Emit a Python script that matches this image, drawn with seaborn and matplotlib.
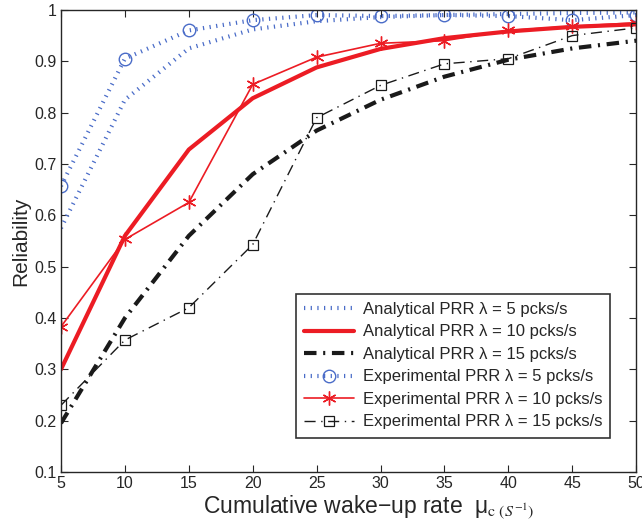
import numpy as np
import pandas as pd
import matplotlib
matplotlib.use("Agg")
import matplotlib.pyplot as plt
import seaborn as sns

# wake-up rate (x axis)
mu_c = [5, 10, 15, 20, 25, 30, 35, 40, 45, 50]

# analytical curves
ana_5 = [0.575, 0.825, 0.925, 0.962, 0.978, 0.986, 0.990, 0.992, 0.994, 0.995]
ana_10 = [0.300, 0.560, 0.728, 0.828, 0.888, 0.924, 0.945, 0.958, 0.967, 0.972]
ana_15 = [0.195, 0.400, 0.560, 0.680, 0.765, 0.825, 0.870, 0.903, 0.925, 0.940]

# experimental points
exp_5 = [0.657, 0.905, 0.960, 0.980, 0.990, 0.988, 0.990, 0.988, 0.980, 0.990]
exp_10 = [0.383, 0.553, 0.625, 0.855, 0.908, 0.935, 0.940, 0.960, 0.968, 0.975]
exp_15 = [0.230, 0.357, 0.420, 0.543, 0.790, 0.853, 0.895, 0.905, 0.950, 0.965]

blue = '#4a6cc8'
red = '#ec1c24'
black = '#1a1a1a'

sns.set_style('ticks')
plt.rcParams['font.family'] = ['Liberation Sans', 'DejaVu Sans']
plt.rcParams['mathtext.fontset'] = 'stix'

fig, ax = plt.subplots(figsize=(6.42, 5.21), dpi=100)
fig.subplots_adjust(left=0.095, right=0.991, top=0.981, bottom=0.094)

# matlab-style thick dotted line -> short ticks across the line
dot_pattern = (0.3, 1.3)

# ---- analytical ----
sns.lineplot(x=mu_c, y=ana_5, ax=ax, color=blue, lw=3,
             label='Analytical PRR λ = 5 pcks/s')
ax.lines[-1].set_dashes(dot_pattern)
ax.lines[-1].set_dash_capstyle('butt')
sns.lineplot(x=mu_c, y=ana_10, ax=ax, color=red, lw=3,
             label='Analytical PRR λ = 10 pcks/s')
sns.lineplot(x=mu_c, y=ana_15, ax=ax, color=black, lw=3,
             label='Analytical PRR λ = 15 pcks/s')
ax.lines[-1].set_dashes((3, 1.6, 0.5, 1.6))

# ---- experimental ----
sns.lineplot(x=mu_c, y=exp_5, ax=ax, color=blue, lw=3, marker='o', ms=9,
             markerfacecolor='none', markeredgecolor=blue, markeredgewidth=1,
             label='Experimental PRR λ = 5 pcks/s')
ax.lines[-1].set_dashes(dot_pattern)
ax.lines[-1].set_dash_capstyle('butt')
sns.lineplot(x=mu_c, y=exp_10, ax=ax, color=red, lw=1.2, marker=(6, 2, 0), ms=10,
             markeredgecolor=red, markeredgewidth=1,
             label='Experimental PRR λ = 10 pcks/s')
sns.lineplot(x=mu_c, y=exp_15, ax=ax, color=black, lw=1, marker='s', ms=7,
             markerfacecolor='none', markeredgecolor=black, markeredgewidth=0.9,
             label='Experimental PRR λ = 15 pcks/s')
ax.lines[-1].set_dashes((8, 4, 1, 4))

ax.set_xlim(5, 50)
ax.set_ylim(0.1, 1.0)
ax.set_xticks(np.arange(5, 51, 5))
ax.set_yticks(np.arange(0.1, 1.01, 0.1))
ax.set_yticklabels(['0.1', '0.2', '0.3', '0.4', '0.5', '0.6', '0.7', '0.8', '0.9', '1'])
ax.tick_params(direction='in', top=True, right=True, labelsize=11.5, length=5,
               width=0.8, pad=3)
for s in ax.spines.values():
    s.set_visible(True)
    s.set_linewidth(1)

ax.set_ylabel('Reliability', fontsize=15, labelpad=3)
ax.set_xlabel(r'Cumulative wake−up rate  μ$_{\mathrm{c}\ (S^{-1})}$', fontsize=16.5,
              labelpad=0)
ax.xaxis.set_label_coords(0.535, -0.045)

leg = ax.legend(loc='lower right', bbox_to_anchor=(0.955, 0.074), borderaxespad=0,
                fontsize=12, frameon=True, fancybox=False, edgecolor='black',
                handlelength=3, borderpad=0.5, labelspacing=0.45, handletextpad=0.5)
leg.get_frame().set_linewidth(1.2)

plt.savefig('out.png', dpi=100)
